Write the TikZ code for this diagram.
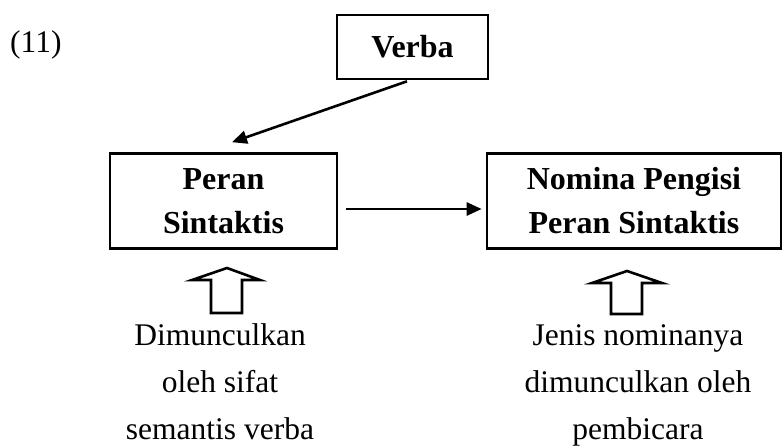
\documentclass[tikz,border=0pt]{standalone}
\usepackage{fontspec}
\setmainfont{Liberation Serif}
\usetikzlibrary{arrows.meta}
\begin{document}
\begin{tikzpicture}[x=1pt,y=-1pt,
  box/.style={draw,line width=2.6pt,inner sep=0pt,font=\bfseries\fontsize{32}{44}\selectfont,align=center},
  caption/.style={inner sep=0pt,font=\fontsize{31.5}{47}\selectfont,align=center},
  link/.style={line width=2.6pt,-{Triangle[length=15pt,width=13pt]}},
  hollow/.style={draw,line width=2.6pt,line join=miter}]
\useasboundingbox (0,0) rectangle (783,445);

\node[inner sep=0pt,anchor=base west,font=\fontsize{31.5}{36}\selectfont] (num) at (10,52) {(11)};

\node[box,minimum width=151pt,minimum height=64pt] (verba) at (412.5,47) {Verba};
\node[box,minimum width=227pt,minimum height=95pt] (peran) at (223.5,201) {Peran\\Sintaktis};
\node[box,minimum width=294pt,minimum height=95pt] (nomina) at (634,201) {Nomina Pengisi\\Peran Sintaktis};

\draw[link] ([xshift=-5.5pt,yshift=-1pt]verba.south) -- ([xshift=8.5pt,yshift=10pt]peran.north);
\draw[link] ([xshift=8pt,yshift=-8pt]peran.east) -- ([xshift=-4pt,yshift=-8pt]nomina.west);

% hollow block arrows under the boxes
\draw[hollow] (227,268) -- (260,280) -- (242,280) -- (242,313) -- (211,313) -- (211,280) -- (192,280) -- cycle;
\draw[hollow] (627,271) -- (662,283) -- (642,283) -- (642,314) -- (611,314) -- (611,283) -- (592,283) -- cycle;

\node[caption] (left) at (220,381.5) {Dimunculkan\\oleh sifat\\semantis verba};
\node[caption] (right) at (638,385) {Jenis nominanya\\dimunculkan oleh\\pembicara};
\end{tikzpicture}
\end{document}
